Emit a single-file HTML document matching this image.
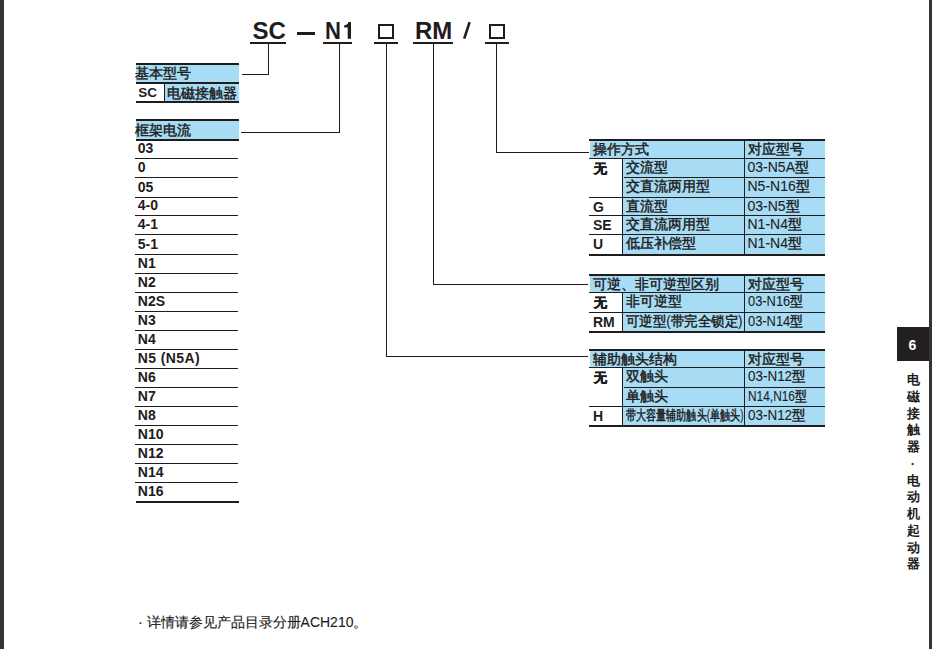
<!DOCTYPE html>
<html><head><meta charset="utf-8"><style>
html,body{margin:0;padding:0;background:#fff;}
body{width:932px;height:649px;position:relative;overflow:hidden;font-family:"Liberation Sans",sans-serif;color:#1e1c1d;}
body>div{position:absolute;}
.t{white-space:nowrap;-webkit-text-stroke:0.45px;}
.b{-webkit-text-stroke:0;}
.l{-webkit-text-stroke:0.1px;}
</style></head><body>
<div style="left:0px;top:0px;width:4px;height:649px;background:#333333"></div>
<div style="left:929px;top:0px;width:3px;height:649px;background:#333333"></div>
<div class="t b" style="left:252.5px;top:19px;font-size:24px;line-height:24px;font-weight:bold;">SC</div>
<div style="left:296.5px;top:32px;width:18px;height:2.5px;background:#1e1c1d"></div>
<div class="t b" style="left:324.5px;top:19px;font-size:24px;line-height:24px;font-weight:bold;transform:scaleX(0.92);transform-origin:0 0">N</div>
<svg style="position:absolute;left:0;top:0" width="932" height="60"><path d="M344.2 25.3 L344.2 27.6 L347.7 27.6 L347.7 38.7 L351.0 38.7 L351.0 22.1 L348.4 22.1 C348.1 24.0 346.8 25.3 344.2 25.3 Z" fill="#1e1c1d"/></svg>
<div style="left:378px;top:23.5px;width:12px;height:11px;border:2px solid #1e1c1d"></div>
<div class="t b" style="left:415px;top:19px;font-size:24px;line-height:24px;font-weight:bold;">RM</div>
<svg style="position:absolute;left:0;top:0" width="932" height="60"><line x1="464.2" y1="38.6" x2="469.6" y2="22.2" stroke="#1e1c1d" stroke-width="2.6"/></svg>
<div style="left:489px;top:23.5px;width:12px;height:11px;border:2px solid #1e1c1d"></div>
<div style="left:250px;top:42px;width:36px;height:2px;background:#1e1c1d"></div>
<div style="left:323px;top:42px;width:29px;height:2px;background:#1e1c1d"></div>
<div style="left:374px;top:42px;width:24px;height:2px;background:#1e1c1d"></div>
<div style="left:413px;top:42px;width:40px;height:2px;background:#1e1c1d"></div>
<div style="left:485px;top:42px;width:24px;height:2px;background:#1e1c1d"></div>
<div style="left:268px;top:44px;width:1px;height:31px;background:#1e1c1d"></div>
<div style="left:242px;top:74px;width:27px;height:1px;background:#1e1c1d"></div>
<div style="left:339px;top:44px;width:1px;height:89px;background:#1e1c1d"></div>
<div style="left:241px;top:132px;width:99px;height:1px;background:#1e1c1d"></div>
<div style="left:386px;top:44px;width:1px;height:313px;background:#1e1c1d"></div>
<div style="left:386px;top:356px;width:202px;height:1px;background:#1e1c1d"></div>
<div style="left:433px;top:44px;width:1px;height:241px;background:#1e1c1d"></div>
<div style="left:433px;top:284px;width:155px;height:1px;background:#1e1c1d"></div>
<div style="left:496px;top:44px;width:1px;height:109px;background:#1e1c1d"></div>
<div style="left:496px;top:152px;width:93px;height:1px;background:#1e1c1d"></div>
<div style="left:136px;top:63px;width:103px;height:2px;background:#1e1c1d"></div>
<div style="left:136px;top:65px;width:103px;height:17px;background:#a8dcf4"></div>
<div class="t" style="left:134.7px;top:65.5px;font-size:14px;line-height:14px;">基本型号</div>
<div style="left:136px;top:82px;width:103px;height:2px;background:#1e1c1d"></div>
<div style="left:165px;top:84px;width:74px;height:17px;background:#a8dcf4"></div>
<div style="left:164px;top:84px;width:1px;height:17px;background:#1e1c1d"></div>
<div class="t b" style="left:138.3px;top:85.8px;font-size:13.5px;line-height:13.5px;font-weight:bold;">SC</div>
<div class="t" style="left:167.3px;top:85.6px;font-size:14px;line-height:14px;">电磁接触器</div>
<div style="left:136px;top:101px;width:103px;height:2px;background:#1e1c1d"></div>
<div style="left:136px;top:119px;width:103px;height:2px;background:#1e1c1d"></div>
<div style="left:136px;top:121px;width:103px;height:18px;background:#a8dcf4"></div>
<div class="t" style="left:134.5px;top:122.5px;font-size:14px;line-height:14px;">框架电流</div>
<div style="left:136px;top:139px;width:103px;height:2px;background:#1e1c1d"></div>
<div class="t b" style="left:137.8px;top:141.2px;font-size:14px;line-height:14px;font-weight:bold;">03</div>
<div style="left:135px;top:158px;width:103px;height:1px;background:#1e1c1d"></div>
<div class="t b" style="left:137.8px;top:160.2px;font-size:14px;line-height:14px;font-weight:bold;">0</div>
<div style="left:135px;top:177px;width:103px;height:1px;background:#1e1c1d"></div>
<div class="t b" style="left:137.8px;top:180.2px;font-size:14px;line-height:14px;font-weight:bold;">05</div>
<div style="left:135px;top:197px;width:103px;height:1px;background:#1e1c1d"></div>
<div class="t b" style="left:137.8px;top:198.2px;font-size:14px;line-height:14px;font-weight:bold;">4-0</div>
<div style="left:135px;top:215px;width:103px;height:1px;background:#1e1c1d"></div>
<div class="t b" style="left:137.8px;top:217.2px;font-size:14px;line-height:14px;font-weight:bold;">4-1</div>
<div style="left:135px;top:234px;width:103px;height:1px;background:#1e1c1d"></div>
<div class="t b" style="left:137.8px;top:237.2px;font-size:14px;line-height:14px;font-weight:bold;">5-1</div>
<div style="left:135px;top:254px;width:103px;height:1px;background:#1e1c1d"></div>
<div class="t b" style="left:137.8px;top:256.2px;font-size:14px;line-height:14px;font-weight:bold;">N1</div>
<div style="left:135px;top:273px;width:103px;height:1px;background:#1e1c1d"></div>
<div class="t b" style="left:137.8px;top:274.7px;font-size:14px;line-height:14px;font-weight:bold;">N2</div>
<div style="left:135px;top:291.5px;width:103px;height:1px;background:#1e1c1d"></div>
<div class="t b" style="left:137.8px;top:294.2px;font-size:14px;line-height:14px;font-weight:bold;">N2S</div>
<div style="left:135px;top:311px;width:103px;height:1px;background:#1e1c1d"></div>
<div class="t b" style="left:137.8px;top:313.2px;font-size:14px;line-height:14px;font-weight:bold;">N3</div>
<div style="left:135px;top:330px;width:103px;height:1px;background:#1e1c1d"></div>
<div class="t b" style="left:137.8px;top:332.2px;font-size:14px;line-height:14px;font-weight:bold;">N4</div>
<div style="left:135px;top:349px;width:103px;height:1px;background:#1e1c1d"></div>
<div class="t b" style="left:137.8px;top:351.2px;font-size:14px;line-height:14px;font-weight:bold;letter-spacing:0.4px">N5 (N5A)</div>
<div style="left:135px;top:368px;width:103px;height:1px;background:#1e1c1d"></div>
<div class="t b" style="left:137.8px;top:370.2px;font-size:14px;line-height:14px;font-weight:bold;">N6</div>
<div style="left:135px;top:387px;width:103px;height:1px;background:#1e1c1d"></div>
<div class="t b" style="left:137.8px;top:389.2px;font-size:14px;line-height:14px;font-weight:bold;">N7</div>
<div style="left:135px;top:406px;width:103px;height:1px;background:#1e1c1d"></div>
<div class="t b" style="left:137.8px;top:408.2px;font-size:14px;line-height:14px;font-weight:bold;">N8</div>
<div style="left:135px;top:425px;width:103px;height:1px;background:#1e1c1d"></div>
<div class="t b" style="left:137.8px;top:427.2px;font-size:14px;line-height:14px;font-weight:bold;">N10</div>
<div style="left:135px;top:444px;width:103px;height:1px;background:#1e1c1d"></div>
<div class="t b" style="left:137.8px;top:446.2px;font-size:14px;line-height:14px;font-weight:bold;">N12</div>
<div style="left:135px;top:463px;width:103px;height:1px;background:#1e1c1d"></div>
<div class="t b" style="left:137.8px;top:465.2px;font-size:14px;line-height:14px;font-weight:bold;">N14</div>
<div style="left:135px;top:482px;width:103px;height:1px;background:#1e1c1d"></div>
<div class="t b" style="left:137.8px;top:484.2px;font-size:14px;line-height:14px;font-weight:bold;">N16</div>
<div style="left:136px;top:501px;width:103px;height:2px;background:#1e1c1d"></div>
<div style="left:589px;top:139px;width:236px;height:2px;background:#1e1c1d"></div>
<div style="left:590px;top:141px;width:235px;height:17px;background:#a8dcf4"></div>
<div style="left:744px;top:141px;width:1px;height:17px;background:#1e1c1d"></div>
<div class="t" style="left:593px;top:141.5px;font-size:14px;line-height:14px;">操作方式</div>
<div class="t" style="left:747.5px;top:141.5px;font-size:14px;line-height:14px;">对应型号</div>
<div style="left:589px;top:158px;width:236px;height:1px;background:#1e1c1d"></div>
<div style="left:623px;top:159px;width:202px;height:19px;background:#a8dcf4"></div>
<div style="left:622px;top:158px;width:1px;height:19px;background:#1e1c1d"></div>
<div style="left:744px;top:159px;width:1px;height:18px;background:#1e1c1d"></div>
<div class="t b" style="left:593.5px;top:161.5px;font-size:13px;line-height:13px;font-weight:bold;-webkit-text-stroke:0.6px">无</div>
<div class="t" style="left:625.5px;top:160.2px;font-size:14px;line-height:14px;">交流型</div>
<div class="t" style="left:747.5px;top:159.9px;font-size:14px;line-height:14px;"><span class="l">03-N5A</span>型</div>
<div style="left:624px;top:177px;width:201px;height:1px;background:#1e1c1d"></div>
<div style="left:623px;top:178px;width:202px;height:20px;background:#a8dcf4"></div>
<div style="left:622px;top:177px;width:1px;height:20px;background:#1e1c1d"></div>
<div style="left:744px;top:178px;width:1px;height:19px;background:#1e1c1d"></div>
<div class="t" style="left:625.5px;top:179.2px;font-size:14px;line-height:14px;">交直流两用型</div>
<div class="t" style="left:747.5px;top:178.9px;font-size:14px;line-height:14px;"><span class="l">N5-N16</span>型</div>
<div style="left:589px;top:197px;width:236px;height:1px;background:#1e1c1d"></div>
<div style="left:623px;top:198px;width:202px;height:18px;background:#a8dcf4"></div>
<div style="left:622px;top:197px;width:1px;height:18px;background:#1e1c1d"></div>
<div style="left:744px;top:198px;width:1px;height:17px;background:#1e1c1d"></div>
<div class="t b" style="left:593px;top:200px;font-size:14px;line-height:14px;font-weight:bold;">G</div>
<div class="t" style="left:625.5px;top:199.2px;font-size:14px;line-height:14px;">直流型</div>
<div class="t" style="left:747.5px;top:198.9px;font-size:14px;line-height:14px;"><span class="l">03-N5</span>型</div>
<div style="left:589px;top:215px;width:236px;height:1px;background:#1e1c1d"></div>
<div style="left:623px;top:216px;width:202px;height:19px;background:#a8dcf4"></div>
<div style="left:622px;top:215px;width:1px;height:19px;background:#1e1c1d"></div>
<div style="left:744px;top:216px;width:1px;height:18px;background:#1e1c1d"></div>
<div class="t b" style="left:593px;top:218px;font-size:14px;line-height:14px;font-weight:bold;">SE</div>
<div class="t" style="left:625.5px;top:217.2px;font-size:14px;line-height:14px;">交直流两用型</div>
<div class="t" style="left:747.5px;top:216.9px;font-size:14px;line-height:14px;"><span class="l">N1-N4</span>型</div>
<div style="left:589px;top:234px;width:236px;height:1px;background:#1e1c1d"></div>
<div style="left:623px;top:235px;width:202px;height:20px;background:#a8dcf4"></div>
<div style="left:622px;top:234px;width:1px;height:20px;background:#1e1c1d"></div>
<div style="left:744px;top:235px;width:1px;height:19px;background:#1e1c1d"></div>
<div class="t b" style="left:593px;top:237px;font-size:14px;line-height:14px;font-weight:bold;">U</div>
<div class="t" style="left:625.5px;top:236.2px;font-size:14px;line-height:14px;">低压补偿型</div>
<div class="t" style="left:747.5px;top:235.9px;font-size:14px;line-height:14px;"><span class="l">N1-N4</span>型</div>
<div style="left:589px;top:254px;width:236px;height:2px;background:#1e1c1d"></div>
<div style="left:589px;top:274px;width:236px;height:2px;background:#1e1c1d"></div>
<div style="left:590px;top:276px;width:235px;height:16px;background:#a8dcf4"></div>
<div style="left:744px;top:276px;width:1px;height:16px;background:#1e1c1d"></div>
<div class="t" style="left:593px;top:276.5px;font-size:14px;line-height:14px;">可逆、非可逆型区别</div>
<div class="t" style="left:747.5px;top:276.5px;font-size:14px;line-height:14px;">对应型号</div>
<div style="left:589px;top:292px;width:236px;height:1px;background:#1e1c1d"></div>
<div style="left:623px;top:293px;width:202px;height:20px;background:#a8dcf4"></div>
<div style="left:622px;top:292px;width:1px;height:20px;background:#1e1c1d"></div>
<div style="left:744px;top:293px;width:1px;height:19px;background:#1e1c1d"></div>
<div class="t b" style="left:593.5px;top:295.5px;font-size:13px;line-height:13px;font-weight:bold;-webkit-text-stroke:0.6px">无</div>
<div class="t" style="left:625.5px;top:294.2px;font-size:14px;line-height:14px;">非可逆型</div>
<div class="t" style="left:747.5px;top:293.9px;font-size:14px;line-height:14px;transform:scaleX(0.92);transform-origin:0 0"><span class="l">03-N16</span>型</div>
<div style="left:589px;top:312px;width:236px;height:1px;background:#1e1c1d"></div>
<div style="left:623px;top:313px;width:202px;height:19px;background:#a8dcf4"></div>
<div style="left:622px;top:312px;width:1px;height:19px;background:#1e1c1d"></div>
<div style="left:744px;top:313px;width:1px;height:18px;background:#1e1c1d"></div>
<div class="t b" style="left:593px;top:315px;font-size:14px;line-height:14px;font-weight:bold;">RM</div>
<div class="t" style="left:625.5px;top:314.2px;font-size:14px;line-height:14px;transform:scaleX(0.96);transform-origin:0 0">可逆型<span class="l">(</span>带完全锁定<span class="l">)</span></div>
<div class="t" style="left:747.5px;top:313.9px;font-size:14px;line-height:14px;transform:scaleX(0.92);transform-origin:0 0"><span class="l">03-N14</span>型</div>
<div style="left:589px;top:331px;width:236px;height:2px;background:#1e1c1d"></div>
<div style="left:589px;top:349px;width:236px;height:2px;background:#1e1c1d"></div>
<div style="left:590px;top:351px;width:235px;height:16px;background:#a8dcf4"></div>
<div style="left:744px;top:351px;width:1px;height:16px;background:#1e1c1d"></div>
<div class="t" style="left:593px;top:351.5px;font-size:14px;line-height:14px;">辅助触头结构</div>
<div class="t" style="left:747.5px;top:351.5px;font-size:14px;line-height:14px;">对应型号</div>
<div style="left:589px;top:367px;width:236px;height:1px;background:#1e1c1d"></div>
<div style="left:623px;top:368px;width:202px;height:20px;background:#a8dcf4"></div>
<div style="left:622px;top:367px;width:1px;height:20px;background:#1e1c1d"></div>
<div style="left:744px;top:368px;width:1px;height:19px;background:#1e1c1d"></div>
<div class="t b" style="left:593.5px;top:370.5px;font-size:13px;line-height:13px;font-weight:bold;-webkit-text-stroke:0.6px">无</div>
<div class="t" style="left:625.5px;top:369.2px;font-size:14px;line-height:14px;">双触头</div>
<div class="t" style="left:747.5px;top:368.9px;font-size:14px;line-height:14px;transform:scaleX(0.96);transform-origin:0 0"><span class="l">03-N12</span>型</div>
<div style="left:624px;top:387px;width:201px;height:1px;background:#1e1c1d"></div>
<div style="left:623px;top:388px;width:202px;height:19px;background:#a8dcf4"></div>
<div style="left:622px;top:387px;width:1px;height:19px;background:#1e1c1d"></div>
<div style="left:744px;top:388px;width:1px;height:18px;background:#1e1c1d"></div>
<div class="t" style="left:625.5px;top:389.2px;font-size:14px;line-height:14px;">单触头</div>
<div class="t" style="left:747.5px;top:388.9px;font-size:14px;line-height:14px;transform:scaleX(0.85);transform-origin:0 0"><span class="l">N14,N16</span>型</div>
<div style="left:589px;top:406px;width:236px;height:1px;background:#1e1c1d"></div>
<div style="left:623px;top:407px;width:202px;height:19px;background:#a8dcf4"></div>
<div style="left:622px;top:406px;width:1px;height:19px;background:#1e1c1d"></div>
<div style="left:744px;top:407px;width:1px;height:18px;background:#1e1c1d"></div>
<div class="t b" style="left:593px;top:409px;font-size:14px;line-height:14px;font-weight:bold;">H</div>
<div class="t" style="left:625.5px;top:408.2px;font-size:14px;line-height:14px;transform:scaleX(0.72);transform-origin:0 0">带大容量辅助触头<span class="l">(</span>单触头<span class="l">)</span></div>
<div class="t" style="left:747.5px;top:407.9px;font-size:14px;line-height:14px;transform:scaleX(0.96);transform-origin:0 0"><span class="l">03-N12</span>型</div>
<div style="left:589px;top:425px;width:236px;height:2px;background:#1e1c1d"></div>
<div style="left:897px;top:327px;width:32px;height:34px;background:#231f20"></div>
<div class="t b" style="left:902.5px;top:337.5px;font-size:14px;line-height:14px;font-weight:bold;color:#fff;width:20px;text-align:center">6</div>
<div class="t b" style="left:905px;top:373.2px;font-size:13px;line-height:13px;font-weight:bold;width:16px;text-align:center">电</div>
<div class="t b" style="left:905px;top:389.94px;font-size:13px;line-height:13px;font-weight:bold;width:16px;text-align:center">磁</div>
<div class="t b" style="left:905px;top:406.68px;font-size:13px;line-height:13px;font-weight:bold;width:16px;text-align:center">接</div>
<div class="t b" style="left:905px;top:423.41999999999996px;font-size:13px;line-height:13px;font-weight:bold;width:16px;text-align:center">触</div>
<div class="t b" style="left:905px;top:440.15999999999997px;font-size:13px;line-height:13px;font-weight:bold;width:16px;text-align:center">器</div>
<div class="t b" style="left:905px;top:456.9px;font-size:13px;line-height:13px;font-weight:bold;width:16px;text-align:center">·</div>
<div class="t b" style="left:905px;top:473.64px;font-size:13px;line-height:13px;font-weight:bold;width:16px;text-align:center">电</div>
<div class="t b" style="left:905px;top:490.38px;font-size:13px;line-height:13px;font-weight:bold;width:16px;text-align:center">动</div>
<div class="t b" style="left:905px;top:507.12px;font-size:13px;line-height:13px;font-weight:bold;width:16px;text-align:center">机</div>
<div class="t b" style="left:905px;top:523.86px;font-size:13px;line-height:13px;font-weight:bold;width:16px;text-align:center">起</div>
<div class="t b" style="left:905px;top:540.5999999999999px;font-size:13px;line-height:13px;font-weight:bold;width:16px;text-align:center">动</div>
<div class="t b" style="left:905px;top:557.3399999999999px;font-size:13px;line-height:13px;font-weight:bold;width:16px;text-align:center">器</div>
<div class="t" style="left:138px;top:615.3px;font-size:14px;line-height:14px;-webkit-text-stroke:0.15px">·<span class="l"> </span>详情请参见产品目录分册<span class="l">ACH210</span>。</div>
</body></html>
